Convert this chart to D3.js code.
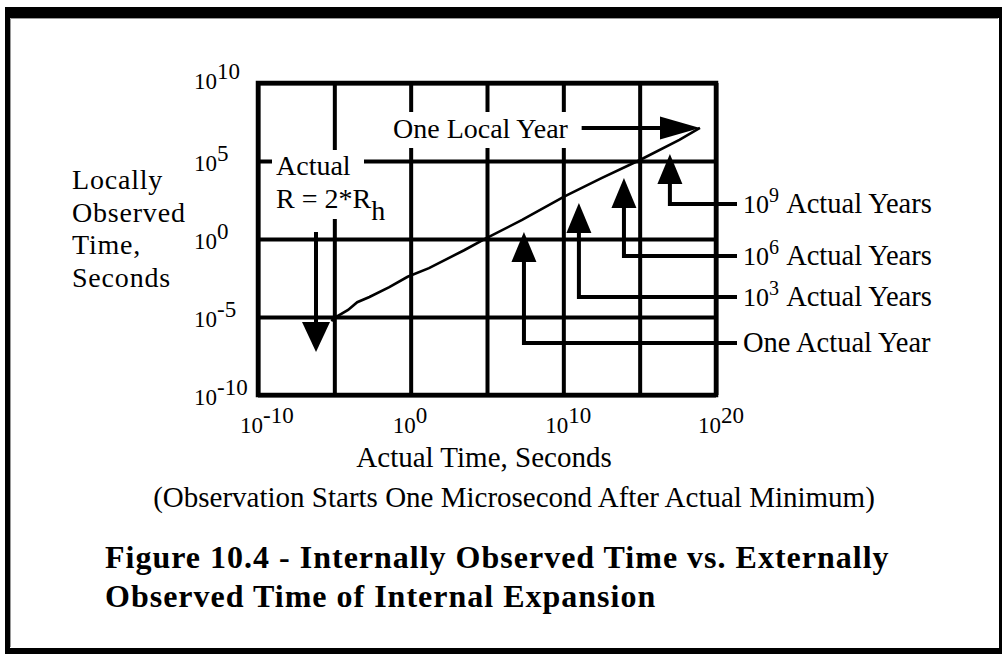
<!DOCTYPE html>
<html>
<head>
<meta charset="utf-8">
<script src="https://cdn.jsdelivr.net/npm/d3@7"></script>
<style>
  html, body { margin: 0; padding: 0; background: #fff; }
  svg { display: block; }
</style>
</head>
<body>
<svg id="chart" width="1002" height="654"></svg>
<script>
// curve, as powers of ten
const actualTimeExp = [-5.2, -4.9, -4.1, -3.5, -2.7, -1.4, -0.2, 1.2, 3.5, 4.9, 7.3, 10.05, 12.5, 15.05, 17.6, 18.95];
const localTimeExp = [-5.25, -5.0, -4.55, -4.05, -3.72, -3.08, -2.42, -1.87, -0.72, 0.03, 1.22, 2.72, 3.9, 5.08, 6.35, 7.12];

const xGridExp = [-10, -5, 0, 5, 10, 15, 20];
const yGridExp = [-10, -5, 0, 5, 10];
const xTickExp = ["-10", "0", "10", "20"];
const yTickExp = ["-10", "-5", "0", "5", "10"];

// up arrows: x, tip, and where the leader bends off to the label
const markNames = ["One Actual Year", "Actual Years", "Actual Years", "Actual Years"];
const markPowers = ["", "3", "6", "9"];
const markXExp = [7.42, 11.02, 13.97, 16.98];
const markTipExp = [0.45, 2.31, 3.91, 5.45];
const markElbowExp = [-6.67, -3.72, -1.09, 2.24];

// "Actual R = 2*Rh" down arrow
const rArrowXExp = -6.2;
const rArrowFromExp = 0.45;
const rArrowTipExp = -7.24;

// "One Local Year" arrow
const localFromExp = 11.2;
const localTipExp = [18.95, 7.12];

const yAxisTitle = ["Locally", "Observed", "Time,", "Seconds"];
const titleLines = [
  "Figure 10.4 - Internally Observed Time vs. Externally",
  "Observed Time of Internal Expansion",
];

const FONT = "'Liberation Serif', 'Times New Roman', serif";
const PLOT = { left: 258, right: 716, top: 83, bottom: 395 };
const p10 = (e) => Math.pow(10, +e);

const svg = d3.select("#chart").attr("font-family", FONT);

// frame
svg.append("rect").attr("width", 1002).attr("height", 654).attr("fill", "#fff");
svg.append("rect").attr("x", 5).attr("y", 7).attr("width", 997).attr("height", 11).attr("fill", "#000");
svg.append("rect").attr("x", 5).attr("y", 7).attr("width", 5).attr("height", 647).attr("fill", "#000");
svg.append("rect").attr("x", 5).attr("y", 648).attr("width", 997).attr("height", 6).attr("fill", "#000");
svg.append("rect").attr("x", 999).attr("y", 7).attr("width", 3).attr("height", 647).attr("fill", "#000");
svg.append("path")
  .attr("d", "M10.5,647 V18.5 H998")
  .attr("fill", "none").attr("stroke", "#9a9a9a").attr("stroke-width", 1);

const x = d3.scaleLog().domain([1e-10, 1e20]).range([PLOT.left, PLOT.right]);
const y = d3.scaleLog().domain([1e-10, 1e10]).range([PLOT.bottom, PLOT.top]);

const styleGrid = (g) => {
  g.select(".domain").remove();
  g.selectAll("line").attr("stroke", "#000").attr("stroke-width", 4);
};

svg.append("g")
  .attr("transform", `translate(0,${PLOT.bottom})`)
  .call(d3.axisBottom(x).tickValues(xGridExp.map(p10)).tickSize(-(PLOT.bottom - PLOT.top)).tickFormat(""))
  .call(styleGrid);

svg.append("g")
  .attr("transform", `translate(${PLOT.left},0)`)
  .call(d3.axisLeft(y).tickValues(yGridExp.map(p10)).tickSize(-(PLOT.right - PLOT.left)).tickFormat(""))
  .call(styleGrid);

svg.append("rect")
  .attr("x", PLOT.left).attr("y", PLOT.top)
  .attr("width", PLOT.right - PLOT.left).attr("height", PLOT.bottom - PLOT.top)
  .attr("fill", "none").attr("stroke", "#000").attr("stroke-width", 4.5);

// white knock-outs behind the in-plot labels
svg.append("rect").attr("x", 272).attr("y", 150).attr("width", 92).attr("height", 69).attr("fill", "#fff");
svg.append("rect").attr("x", 388).attr("y", 112).attr("width", 188).attr("height", 36).attr("fill", "#fff");

// curve
const line = d3.line()
  .x((d) => x(p10(d[0])))
  .y((d) => y(p10(d[1])));

svg.append("path")
  .datum(actualTimeExp.map((v, i) => [v, localTimeExp[i]]))
  .attr("d", line)
  .attr("fill", "none")
  .attr("stroke", "#000")
  .attr("stroke-width", 2.6);

// arrows
const arrows = svg.append("g");

function head(tx, ty, dir, len, half) {
  let pts;
  if (dir === "up") pts = [[tx, ty], [tx - half, ty + len], [tx + half, ty + len]];
  else if (dir === "down") pts = [[tx, ty], [tx - half, ty - len], [tx + half, ty - len]];
  else pts = [[tx, ty], [tx - len, ty - half], [tx - len, ty + half]];
  arrows.append("path").attr("d", "M" + pts.join("L") + "Z").attr("fill", "#000");
}

function shaft(d) {
  arrows.append("path").attr("d", d).attr("fill", "none").attr("stroke", "#000").attr("stroke-width", 4);
}

const LEADER_END = 737;
const LABEL_X = 743;

markXExp.forEach((xe, i) => {
  const ax = x(p10(xe));
  const tip = y(p10(markTipExp[i]));
  const elbow = y(p10(markElbowExp[i]));
  shaft(`M${ax},${tip + 20} V${elbow} H${LEADER_END}`);
  head(ax, tip, "up", 30, 12.5);

  const t = svg.append("text").attr("x", LABEL_X).attr("y", elbow + 9).attr("font-size", 28.5);
  if (markPowers[i]) {
    t.append("tspan").attr("font-size", 26).text("10");
    t.append("tspan").attr("font-size", 20).attr("dy", -11).text(markPowers[i]);
    t.append("tspan").attr("dy", 11).text("\u00a0" + markNames[i]);
  } else {
    t.text(markNames[i]);
  }
});

// Actual R = 2*Rh
{
  const ax = x(p10(rArrowXExp));
  const tip = y(p10(rArrowTipExp));
  shaft(`M${ax},${y(p10(rArrowFromExp))} V${tip - 20}`);
  head(ax, tip, "down", 30, 14);
  svg.append("text").attr("x", 276).attr("y", 175).attr("font-size", 28).text("Actual");
  const r = svg.append("text").attr("x", 276).attr("y", 208).attr("font-size", 28);
  r.append("tspan").text("R = 2*R");
  r.append("tspan").attr("dy", 12).text("h");
}

// One Local Year
{
  const tx = x(p10(localTipExp[0]));
  const ty = y(p10(localTipExp[1]));
  shaft(`M${x(p10(localFromExp))},${ty} H${tx - 30}`);
  head(tx, ty, "right", 40, 11.5);
  svg.append("text").attr("x", 393).attr("y", 138).attr("font-size", 28).text("One Local Year");
}

// tick labels
function power(sel, exp, size, rise) {
  sel.append("tspan").text("10");
  sel.append("tspan").attr("dy", -rise).attr("font-size", size).text(exp);
}

svg.append("g").selectAll("text")
  .data(xTickExp)
  .join("text")
  .attr("x", (d) => x(p10(d)) - 18)
  .attr("y", PLOT.bottom + 38)
  .attr("font-size", 23)
  .each(function (d) { power(d3.select(this), d, 23, 10); });

svg.append("g").selectAll("text")
  .data(yTickExp)
  .join("text")
  .attr("x", 194)
  .attr("y", (d) => y(p10(d)) + (d === "10" ? 6 : 10))
  .attr("font-size", 23)
  .each(function (d) { power(d3.select(this), d, 23, 10); });

// axis titles
svg.append("g").selectAll("text")
  .data(yAxisTitle)
  .join("text")
  .attr("x", 72)
  .attr("y", (d, i) => 189 + i * 32.5)
  .attr("font-size", 28)
  .attr("letter-spacing", 0.8)
  .text((d) => d);

svg.append("text")
  .attr("x", 484).attr("y", 467)
  .attr("text-anchor", "middle").attr("font-size", 29)
  .text("Actual Time, Seconds");

svg.append("text")
  .attr("x", 514).attr("y", 507)
  .attr("text-anchor", "middle").attr("font-size", 29)
  .text("(Observation Starts One Microsecond After Actual Minimum)");

svg.append("g").selectAll("text")
  .data(titleLines)
  .join("text")
  .attr("x", 105)
  .attr("y", (d, i) => 568 + i * 39)
  .attr("font-size", 32)
  .attr("font-weight", "bold")
  .attr("letter-spacing", 1)
  .text((d) => d);
</script>
</body>
</html>
